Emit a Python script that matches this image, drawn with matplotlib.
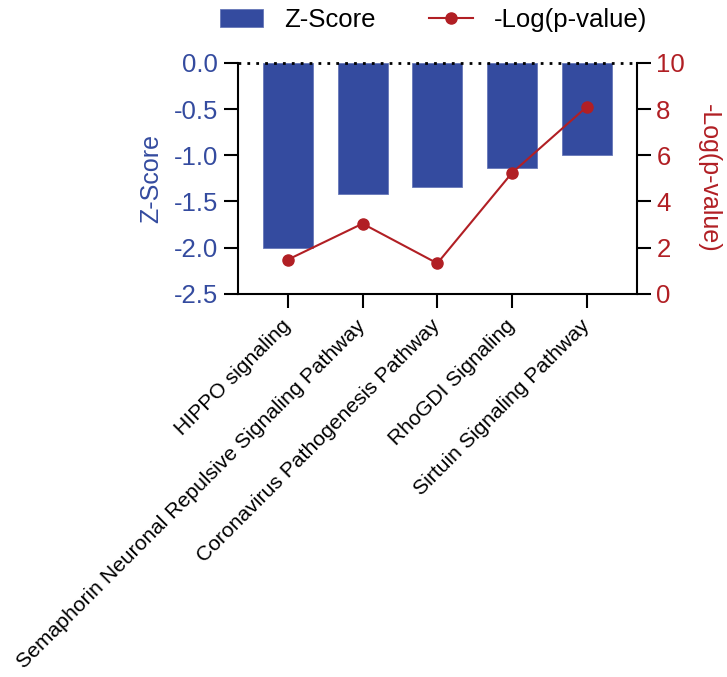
import numpy as np
import matplotlib.pyplot as plt

plt.rcParams['font.family'] = ['Liberation Sans', 'DejaVu Sans']

pathways = ["HIPPO signaling",
            "Semaphorin Neuronal Repulsive Signaling Pathway",
            "Coronavirus Pathogenesis Pathway",
            "RhoGDI Signaling",
            "Sirtuin Signaling Pathway"]
z_score = [-2.0, -1.42, -1.34, -1.14, -1.0]
neg_log_p = [1.48, 3.04, 1.32, 5.24, 8.1]

blue = '#344b9f'
red = '#b11f24'

fig = plt.figure(figsize=(7.27, 6.77), dpi=100)
ax = fig.add_axes([0.327, 0.566, 0.549, 0.341])
x = np.arange(len(pathways))

bars = ax.bar(x, z_score, width=0.67, color=blue, edgecolor='#6677b8',
              linewidth=0.6, label='Z-Score', zorder=2)
ax.axhline(0, color='black', linestyle=(0, (1, 2.2)), linewidth=2, zorder=3,
           clip_on=False)
ax.set_xlim(-0.67, 4.67)
ax.set_ylim(-2.5, 0)
ax.set_yticks([0, -0.5, -1.0, -1.5, -2.0, -2.5])
ax.set_yticklabels(['0.0', '-0.5', '-1.0', '-1.5', '-2.0', '-2.5'])
ax.set_xticks(x)
ax.set_xticklabels(pathways, rotation=45, ha='right', va='center',
                   rotation_mode='anchor', fontsize=15.2)
ax.set_ylabel('Z-Score', color=blue, fontsize=18, labelpad=8)

ax2 = ax.twinx()
line, = ax2.plot(x, neg_log_p, color=red, linewidth=1.5, marker='o',
                 markersize=8, label='-Log(p-value)', zorder=4)
ax2.set_ylim(0, 10)
ax2.set_yticks([0, 2, 4, 6, 8, 10])
ax2.set_ylabel('-Log(p-value)', color=red, fontsize=18, rotation=270,
               labelpad=26)

for a in (ax, ax2):
    a.spines['top'].set_visible(False)
    for s in ('left', 'right', 'bottom'):
        a.spines[s].set_linewidth(1.5)
ax.spines['right'].set_visible(False)
ax2.spines['left'].set_visible(False)
ax2.spines['bottom'].set_visible(False)

ax.tick_params(axis='y', colors='black', labelcolor=blue, labelsize=18.5,
               length=10, width=1.5, pad=4)
ax.tick_params(axis='x', length=10, width=1.5, pad=11)
ax2.tick_params(axis='y', colors='black', labelcolor=red, labelsize=18.5,
                length=10, width=1.5, pad=4)

fig.legend([bars, line], ['Z-Score', '-Log(p-value)'], ncol=2, frameon=False,
           loc='center', bbox_to_anchor=(0.596, 0.97), fontsize=18.5,
           handlelength=1.7, handletextpad=0.8, columnspacing=2.1)

fig.savefig('out.png', dpi=100)
